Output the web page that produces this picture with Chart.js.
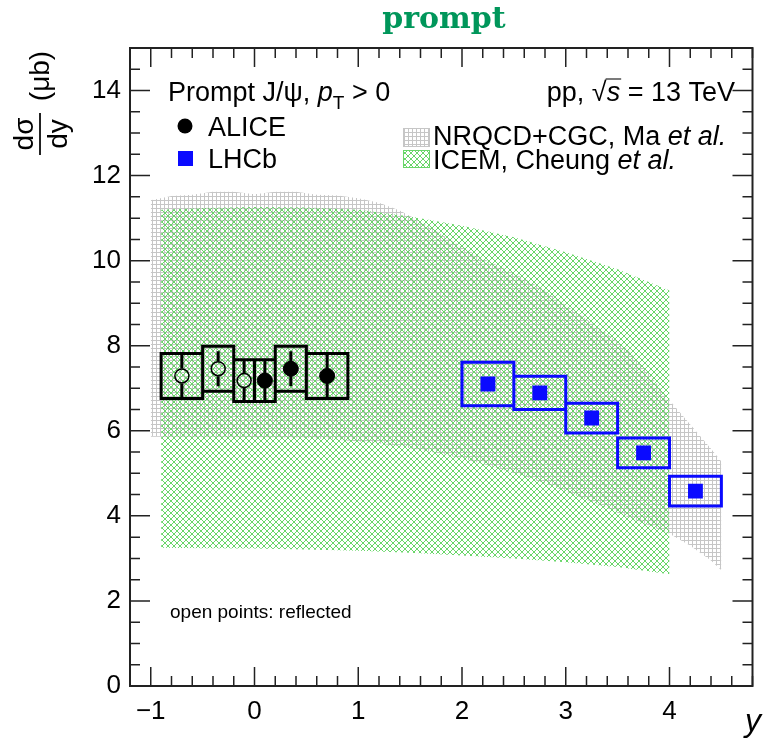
<!DOCTYPE html>
<html>
<head>
<meta charset="utf-8">
<script src="https://cdn.jsdelivr.net/npm/chart.js@4.4.1/dist/chart.umd.min.js"></script>
<style>
  html, body { margin: 0; padding: 0; background: #ffffff; }
  canvas { display: block; }
</style>
</head>
<body>
<canvas id="c" width="763" height="741"></canvas>
<script>
// ---- ALICE, prompt J/psi, measured bins (y >= 0) ----
const aliceBinLow  = [0.0, 0.2, 0.5];
const aliceBinHigh = [0.2, 0.5, 0.9];
const aliceRap     = [0.1, 0.35, 0.7];
const aliceXsec    = [7.18, 7.46, 7.29];
const aliceStat    = [0.49, 0.41, 0.53];
const aliceSyst    = [0.49, 0.53, 0.53];

// ---- LHCb, forward rapidity ----
const lhcbBinLow  = [2.0, 2.5, 3.0, 3.5, 4.0];
const lhcbBinHigh = [2.5, 3.0, 3.5, 4.0, 4.5];
const lhcbRap     = [2.25, 2.75, 3.25, 3.75, 4.25];
const lhcbXsec    = [7.10, 6.89, 6.30, 5.48, 4.58];
const lhcbStat    = [0.04, 0.03, 0.03, 0.03, 0.03];
const lhcbSyst    = [0.51, 0.39, 0.35, 0.35, 0.35];

// ---- NRQCD+CGC (Ma et al.) uncertainty band ----
const nrqcdRap  = [-1.0, -0.8, -0.6, -0.4, -0.2, 0.0, 0.2, 0.4, 0.6, 0.8, 1.0, 1.2, 1.4, 1.6, 1.8,
                   2.0, 2.2, 2.4, 2.6, 2.8, 3.0, 3.2, 3.4, 3.6, 3.8, 4.0, 4.2, 4.4, 4.5];
const nrqcdHigh = [11.42, 11.52, 11.55, 11.62, 11.62, 11.56, 11.62, 11.62, 11.55, 11.53, 11.47, 11.36, 11.18, 10.92, 10.62,
                   10.32, 10.05, 9.82, 9.58, 9.30, 8.95, 8.62, 8.28, 7.90, 7.35, 6.72, 6.15, 5.58, 5.28];
const nrqcdLow  = [5.86, 5.86, 5.86, 5.86, 5.86, 5.85, 5.85, 5.84, 5.82, 5.79, 5.75, 5.70, 5.63, 5.55, 5.46,
                   5.35, 5.22, 5.08, 4.93, 4.76, 4.57, 4.38, 4.18, 3.97, 3.78, 3.58, 3.30, 2.95, 2.72];

// ---- ICEM (Cheung et al.) uncertainty band ----
const icemRap  = [-0.9, -0.5, 0.0, 0.5, 1.0, 1.5, 2.0, 2.5, 3.0, 3.5, 4.0];
const icemHigh = [11.20, 11.24, 11.26, 11.25, 11.20, 11.04, 10.82, 10.55, 10.20, 9.80, 9.30];
const icemLow  = [3.25, 3.24, 3.23, 3.21, 3.18, 3.13, 3.07, 3.00, 2.91, 2.80, 2.63];

// ---- axis labels ----
const xMajorValues = [-1, 0, 1, 2, 3, 4];
const xMajorLabels = ['\u22121', '0', '1', '2', '3', '4'];
const yMajorValues = [0, 2, 4, 6, 8, 10, 12, 14];
const yMajorLabels = ['0', '2', '4', '6', '8', '10', '12', '14'];

// ---------------------------------------------------------------
const SANS = '"Liberation Sans", Arial, Helvetica, sans-serif';
const GREY_LINE = 'rgb(198,198,198)';
const GREEN_LINE = 'rgb(104,214,104)';
const LHCB_BLUE = '#0a0aff';

function gridPattern() {
  const c = document.createElement('canvas');
  c.width = 4; c.height = 4;
  const g = c.getContext('2d');
  g.fillStyle = GREY_LINE;
  g.fillRect(0, 0, 4, 1);
  g.fillRect(0, 0, 1, 4);
  return g.createPattern(c, 'repeat');
}
function crossPattern() {
  const n = 6;
  const c = document.createElement('canvas');
  c.width = n; c.height = n;
  const g = c.getContext('2d');
  g.fillStyle = GREEN_LINE;
  for (let i = 0; i < n; i++) {
    g.fillRect(i, i, 1, 1);
    g.fillRect(n - 1 - i, i, 1, 1);
  }
  return g.createPattern(c, 'repeat');
}
const greyHatch = gridPattern();
const greenHatch = crossPattern();

const toPoints = (xs, ys) => xs.map((x, i) => ({ x, y: ys[i] }));

// closed rectangles (one per bin) separated by gaps
function boxOutlines(lows, highs, vals, errs) {
  const out = [];
  lows.forEach((lo, i) => {
    const hi = highs[i], b = vals[i] - errs[i], t = vals[i] + errs[i];
    out.push({ x: lo, y: b }, { x: hi, y: b }, { x: hi, y: t }, { x: lo, y: t }, { x: lo, y: b }, { x: lo, y: null });
  });
  return out;
}

// reflected ALICE points (y -> -y)
const aliceReflRap  = aliceRap.map(v => -v);
const aliceReflLow  = aliceBinHigh.map(v => -v);
const aliceReflHigh = aliceBinLow.map(v => -v);

const bandLine = { showLine: true, pointRadius: 0, pointHoverRadius: 0, borderWidth: 0, borderColor: 'rgba(0,0,0,0)' };

const datasets = [
  { label: 'nrqcdLow',  data: toPoints(nrqcdRap, nrqcdLow),  ...bandLine, fill: false, order: 21 },
  { label: 'nrqcdHigh', data: toPoints(nrqcdRap, nrqcdHigh), ...bandLine, fill: '-1', backgroundColor: greyHatch, order: 20 },
  { label: 'icemLow',   data: toPoints(icemRap, icemLow),    ...bandLine, fill: false, order: 19 },
  { label: 'icemHigh',  data: toPoints(icemRap, icemHigh),   ...bandLine, fill: '-1', backgroundColor: greenHatch, order: 18 },
  { label: 'aliceBoxes',
    data: boxOutlines(aliceReflLow, aliceReflHigh, aliceXsec, aliceSyst)
            .concat(boxOutlines(aliceBinLow, aliceBinHigh, aliceXsec, aliceSyst)),
    showLine: true, fill: false, pointRadius: 0, pointHoverRadius: 0,
    borderColor: '#000', borderWidth: 3, borderJoinStyle: 'miter', borderCapStyle: 'square', spanGaps: false, order: 10 },
  { label: 'lhcbBoxes',
    data: boxOutlines(lhcbBinLow, lhcbBinHigh, lhcbXsec, lhcbSyst),
    showLine: true, fill: false, pointRadius: 0, pointHoverRadius: 0,
    borderColor: LHCB_BLUE, borderWidth: 3, borderJoinStyle: 'miter', borderCapStyle: 'square', spanGaps: false, order: 9 },
  { label: 'ALICE reflected', data: toPoints(aliceReflRap, aliceXsec), showLine: false,
    pointStyle: 'circle', pointRadius: 7, pointHoverRadius: 7,
    pointBackgroundColor: 'rgba(0,0,0,0)', pointBorderColor: '#000', pointBorderWidth: 1.5, order: 3 },
  { label: 'ALICE', data: toPoints(aliceRap, aliceXsec), showLine: false,
    pointStyle: 'circle', pointRadius: 7.5, pointHoverRadius: 7.5,
    pointBackgroundColor: '#000', pointBorderColor: '#000', pointBorderWidth: 1, order: 2 },
  { label: 'LHCb', data: toPoints(lhcbRap, lhcbXsec), showLine: false,
    pointStyle: 'rect', pointRadius: 10.5, pointHoverRadius: 10.5,
    pointBackgroundColor: LHCB_BLUE, pointBorderColor: LHCB_BLUE, pointBorderWidth: 0, order: 1 }
];
const LAST_BOX_INDEX = datasets.findIndex(d => d.label === 'lhcbBoxes');

const near = (a, b) => Math.abs(a - b) < 1e-6;
const isMajorX = v => xMajorValues.some(m => near(m, v));
const isMajorY = v => yMajorValues.some(m => near(m, v));

// statistical error bars, drawn right after the systematic boxes
const statBars = {
  id: 'statBars',
  afterDatasetDraw(chart, args) {
    if (args.index !== LAST_BOX_INDEX) return;
    const { ctx, scales: { x, y } } = chart;
    ctx.save();
    ctx.lineWidth = 3;
    ctx.lineCap = 'butt';
    const bars = (xs, vals, errs, color, gap) => {
      ctx.strokeStyle = color;
      xs.forEach((xv, i) => {
        const px = x.getPixelForValue(xv);
        const pc = y.getPixelForValue(vals[i]);
        const pt = y.getPixelForValue(vals[i] + errs[i]);
        const pb = y.getPixelForValue(vals[i] - errs[i]);
        ctx.beginPath();
        if (gap > 0) {
          if (pc - gap > pt) { ctx.moveTo(px, pt); ctx.lineTo(px, pc - gap); }
          if (pc + gap < pb) { ctx.moveTo(px, pc + gap); ctx.lineTo(px, pb); }
        } else {
          ctx.moveTo(px, pt); ctx.lineTo(px, pb);
        }
        ctx.stroke();
      });
    };
    bars(aliceReflRap, aliceXsec, aliceStat, '#000', 7.5);
    bars(aliceRap, aliceXsec, aliceStat, '#000', 0);
    bars(lhcbRap, lhcbXsec, lhcbStat, LHCB_BLUE, 0);
    ctx.restore();
  }
};

// draw a run of text pieces with individual fonts
function textRun(ctx, x, y, parts, align) {
  let total = 0;
  parts.forEach(p => { ctx.font = p.font; p.w = ctx.measureText(p.t).width; total += p.w; });
  let cx = align === 'right' ? x - total : x;
  parts.forEach(p => {
    ctx.font = p.font;
    ctx.fillText(p.t, cx, y + (p.dy || 0));
    p.x = cx;
    cx += p.w;
  });
  return parts;
}

// frame, inward ticks on all four sides, titles and legend
const decorations = {
  id: 'decorations',
  afterDraw(chart) {
    const { ctx, chartArea: a, scales: { x, y } } = chart;
    ctx.save();

    // ticks
    ctx.strokeStyle = '#222';
    ctx.lineWidth = 1.5;
    ctx.beginPath();
    x.ticks.forEach(t => {
      const px = x.getPixelForValue(t.value);
      const len = isMajorX(t.value) ? 19 : 10;
      ctx.moveTo(px, a.bottom); ctx.lineTo(px, a.bottom - len);
      ctx.moveTo(px, a.top);    ctx.lineTo(px, a.top + len);
    });
    y.ticks.forEach(t => {
      const py = y.getPixelForValue(t.value);
      const len = isMajorY(t.value) ? 20 : 10;
      ctx.moveTo(a.left, py);  ctx.lineTo(a.left + len, py);
      ctx.moveTo(a.right, py); ctx.lineTo(a.right - len, py);
    });
    ctx.stroke();

    // frame
    ctx.lineWidth = 2;
    ctx.strokeRect(a.left, a.top, a.right - a.left, a.bottom - a.top);

    // title
    ctx.fillStyle = '#00965a';
    ctx.textAlign = 'center';
    ctx.textBaseline = 'alphabetic';
    ctx.font = 'bold 30px "DejaVu Serif", serif';
    ctx.fillText('prompt', 444, 28);

    ctx.fillStyle = '#000';

    // x axis title
    ctx.font = 'italic 32px ' + SANS;
    ctx.textAlign = 'right';
    ctx.fillText('y', 761, 731);
    ctx.textAlign = 'center';

    // y axis title: d sigma / dy (mu b)
    const rotText = (txt, sx, sy, font) => {
      ctx.save();
      ctx.translate(sx, sy);
      ctx.rotate(-Math.PI / 2);
      ctx.font = font;
      ctx.fillText(txt, 0, 0);
      ctx.restore();
    };
    rotText('(\u03bcb)', 49, 76, '28px ' + SANS);
    rotText('d\u03c3', 33, 134, '28px ' + SANS);
    rotText('dy', 67, 134, '28px ' + SANS);
    ctx.lineWidth = 2;
    ctx.beginPath();
    ctx.moveTo(40, 113); ctx.lineTo(40, 155);
    ctx.stroke();

    // legend, left column
    ctx.textAlign = 'left';
    const F = '27px ' + SANS, FI = 'italic 27px ' + SANS;
    textRun(ctx, 168, 101, [
      { t: 'Prompt J/\u03c8, ', font: F },
      { t: 'p', font: FI },
      { t: 'T', font: '19px ' + SANS, dy: 8 },
      { t: ' > 0', font: F }
    ]);
    ctx.beginPath();
    ctx.arc(185, 126, 7.5, 0, Math.PI * 2);
    ctx.fill();
    ctx.font = F;
    ctx.fillText('ALICE', 208, 136);
    ctx.fillStyle = LHCB_BLUE;
    ctx.fillRect(178, 151, 15, 15);
    ctx.fillStyle = '#000';
    ctx.fillText('LHCb', 208, 168);

    // legend, right column
    const pr = textRun(ctx, 735, 101, [
      { t: 'pp, ', font: F },
      { t: '\u221a', font: '27px ' + SANS },
      { t: 's', font: FI },
      { t: ' = 13 TeV', font: F }
    ], 'right');
    ctx.lineWidth = 1.2;
    ctx.beginPath();
    ctx.moveTo(pr[2].x - 1, 79); ctx.lineTo(pr[2].x + pr[2].w + 1, 79);
    ctx.stroke();

    ctx.fillStyle = greyHatch;
    ctx.fillRect(403, 128, 27, 19);
    ctx.strokeStyle = GREY_LINE; ctx.lineWidth = 1;
    ctx.strokeRect(403.5, 128.5, 26, 18);
    ctx.fillStyle = greenHatch;
    ctx.fillRect(403, 150, 27, 18);
    ctx.strokeStyle = GREEN_LINE;
    ctx.strokeRect(403.5, 150.5, 26, 17);
    ctx.fillStyle = '#000';
    textRun(ctx, 433, 145, [
      { t: 'NRQCD+CGC, Ma ', font: F },
      { t: 'et al.', font: FI }
    ]);
    textRun(ctx, 433, 169, [
      { t: 'ICEM, Cheung ', font: F },
      { t: 'et al.', font: FI }
    ]);

    ctx.font = '19px ' + SANS;
    ctx.fillText('open points: reflected', 170, 618);

    ctx.restore();
  }
};

const labelFrom = (values, labels) => v => {
  const i = values.findIndex(m => near(m, v));
  return i >= 0 ? labels[i] : '';
};

new Chart(document.getElementById('c'), {
  type: 'scatter',
  data: { datasets },
  options: {
    responsive: false,
    animation: false,
    devicePixelRatio: 1,
    spanGaps: false,
    layout: { padding: { top: 48, right: 5, left: 0, bottom: 0 } },
    plugins: { legend: { display: false }, tooltip: { enabled: false } },
    scales: {
      x: {
        type: 'linear', min: -1.2, max: 4.8,
        afterFit: s => { s.height = 55; },
        grid: { display: false, drawTicks: false },
        border: { display: false },
        ticks: {
          stepSize: 0.2, autoSkip: false, maxRotation: 0, minRotation: 0, padding: 10,
          color: '#000', font: { family: SANS, size: 26 },
          callback: labelFrom(xMajorValues, xMajorLabels)
        }
      },
      y: {
        type: 'linear', min: 0, max: 15,
        afterFit: s => { s.width = 130; },
        grid: { display: false, drawTicks: false },
        border: { display: false },
        ticks: {
          stepSize: 0.5, autoSkip: false, padding: 9,
          color: '#000', font: { family: SANS, size: 26 },
          callback: labelFrom(yMajorValues, yMajorLabels)
        }
      }
    }
  },
  plugins: [statBars, decorations]
});
</script>
</body>
</html>
